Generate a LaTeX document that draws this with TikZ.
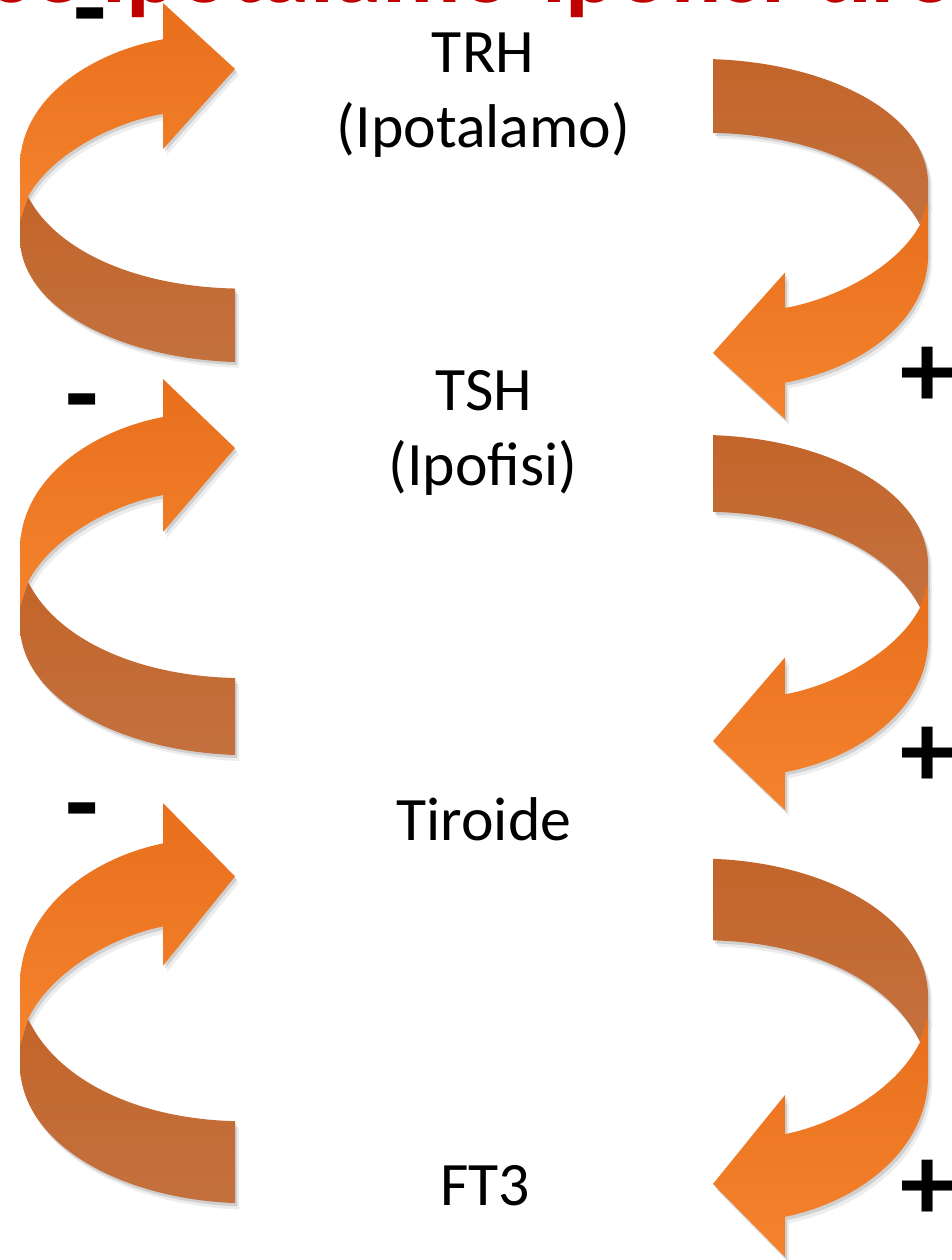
\documentclass[tikz,border=0pt]{standalone}
\usepackage{fontspec}
\setmainfont{Carlito}
\definecolor{orgdark}{HTML}{E86F1C}
\definecolor{orglight}{HTML}{F5832E}
\definecolor{brndark}{HTML}{C3652A}
\definecolor{brnlight}{HTML}{C4713F}
\definecolor{titlered}{HTML}{C00000}
\newcommand{\curlribbon}[2]{%
  \begin{scope}[#1]
    \foreach \sx/\sy/\op in {#2}{%
      \begin{scope}[shift={(\sx,\sy)}]
        \fill[black,opacity=\op] (28,203) .. controls (58,262) and (140,297) .. (235,299)
          -- (235,376) .. controls (120,372) and (22,320) .. (20,248) -- (20,226) -- cycle;
        \fill[black,opacity=\op] (163,38) -- (163,0) -- (235,69) -- (163,153) -- (163,116)
          .. controls (110,126) and (50,160) .. (28,203) -- (20,228) -- (20,168)
          .. controls (22,100) and (90,52) .. (163,38) -- cycle;
      \end{scope}}
    \shade[top color=brndark, bottom color=brnlight]
      (28,203) .. controls (58,262) and (140,297) .. (235,299)
      -- (235,376) .. controls (120,372) and (22,320) .. (20,248) -- (20,226) -- cycle;
    \shade[top color=orgdark, bottom color=orglight]
      (163,38) -- (163,0) -- (235,69) -- (163,153) -- (163,116)
      .. controls (110,126) and (50,160) .. (28,203) -- (20,228) -- (20,168)
      .. controls (22,100) and (90,52) .. (163,38) -- cycle;
  \end{scope}}
\begin{document}
\begin{tikzpicture}[x=0.02cm, y=-0.02cm,
  lbl/.style={font=\fontsize{35.15}{42}\selectfont, inner sep=0pt, anchor=base, text=black},
  sgn/.style={font=\bfseries\fontsize{62}{62}\selectfont, inner sep=0pt, anchor=base, text=black}]
\useasboundingbox (0,0) rectangle (951,1260);
\fill[white] (0,0) rectangle (951,1260);
% title (cut off at the top edge)
\node[font=\bfseries\fontsize{55}{55}\selectfont, text=titlered, anchor=base west, inner sep=0pt]
  (title) at (-104,3) {Asse ipotalamo-ipofisi-tiroide};
% left (negative feedback) arrows
\curlribbon{shift={(0,3)}, yscale=0.955}{2/3/0.12, 4/6/0.07}
\curlribbon{shift={(0,379)}, yscale=1.0}{2/3/0.12, 4/6/0.07}
\curlribbon{shift={(0,803)}, yscale=1.064}{2/3/0.12, 4/6/0.07}
% right (positive) arrows: point reflection of the left ones
\curlribbon{shift={(948,419)}, xscale=-1, yscale=-0.957}{-2/-3/0.12, -4/-6/0.07}
\curlribbon{shift={(948,810)}, xscale=-1, yscale=-0.997}{-2/-3/0.12, -4/-6/0.07}
\curlribbon{shift={(948,1257)}, xscale=-1, yscale=-1.059}{-2/-3/0.12, -4/-6/0.07}
% labels
\node[lbl] (trh) at (483,73) {TRH};
\node[lbl] (ipot) at (483.5,148) {(Ipotalamo)};
\node[lbl] (tsh) at (484,410) {TSH};
\node[lbl] (ipof) at (483,485) {(Ipofisi)};
\node[lbl] (tir) at (484,840) {Tiroide};
\node[lbl] (ft3) at (485,1205) {FT3};
% signs
\node[sgn] (m1) at (90,45) {-};
\node[sgn] (m2) at (82,430) {-};
\node[sgn] (m3) at (82,839) {-};
\node[sgn] (p1) at (928,407) {+};
\node[sgn] (p2) at (928,787) {+};
\node[sgn] (p3) at (928,1220) {+};
\end{tikzpicture}
\end{document}
